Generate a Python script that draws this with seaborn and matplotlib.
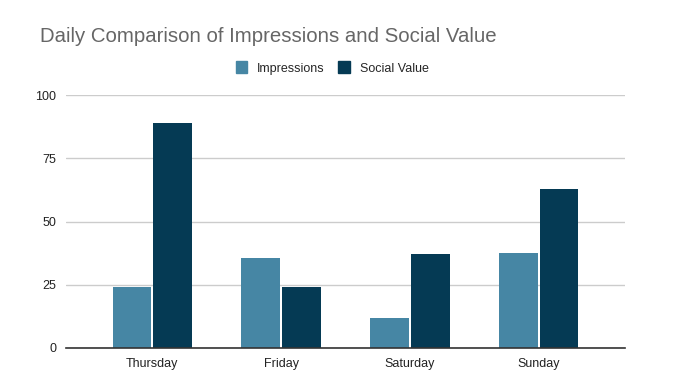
import matplotlib
matplotlib.use("Agg")
import matplotlib.pyplot as plt
import pandas as pd
import seaborn as sns

days = ["Thursday", "Friday", "Saturday", "Sunday"]
impressions = [24, 35.5, 12, 37.5]
social_value = [89, 24, 37, 63]
series_names = ["Impressions", "Social Value"]
colors = ["#4686a4", "#053a54"]
y_ticks = [0, 25, 50, 75, 100]

sns.set_theme(style="white")
plt.rcParams["font.family"] = ["Liberation Sans", "DejaVu Sans"]

df = pd.DataFrame({
    "day": days * 2,
    "series": [series_names[0]] * len(days) + [series_names[1]] * len(days),
    "value": impressions + social_value,
})

fig = plt.figure(figsize=(6.92, 3.87), dpi=100)
ax = fig.add_axes([66 / 692, 1 - 348 / 387, (625 - 66) / 692, (348 - 95) / 387])

sns.barplot(
    data=df, x="day", y="value", hue="series", order=days, hue_order=series_names,
    palette=colors, saturation=1, width=0.63, gap=0.04, ax=ax, legend=False,
    errorbar=None, edgecolor="none",
)

ax.set_ylim(0, 100)
ax.set_xlim(-0.67, len(days) - 1 + 0.67)
ax.set_yticks(y_ticks)
ax.set_yticklabels([str(t) for t in y_ticks])
ax.yaxis.grid(True, color="#cccccc", linewidth=1)
ax.set_axisbelow(True)
for side in ["top", "right", "left"]:
    ax.spines[side].set_visible(False)
ax.spines["bottom"].set_color("#333333")
ax.spines["bottom"].set_linewidth(1.2)
ax.tick_params(axis="both", length=0, labelsize=9, colors="#222222", pad=7)
ax.set_xlabel("")
ax.set_ylabel("")

fig.text(40 / 692, 1 - 37 / 387, "Daily Comparison of Impressions and Social Value",
         fontsize=14.7, color="#666666", va="center", ha="left")

handles = [plt.Rectangle((0, 0), 1, 1, color=c) for c in colors]
fig.legend(handles, series_names, loc="center", bbox_to_anchor=(332 / 692, 1 - 68 / 387),
           ncol=2, frameon=False, fontsize=9, handlelength=0.9, handleheight=1.1,
           handletextpad=0.8, columnspacing=1.1)

fig.savefig("out.png", dpi=100)
